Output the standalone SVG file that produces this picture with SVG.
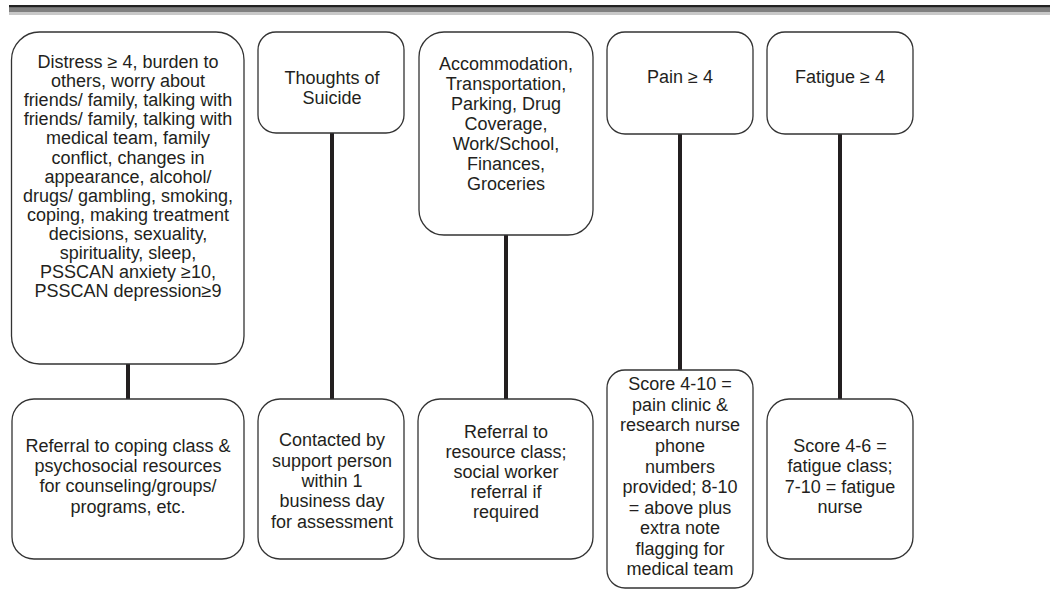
<svg xmlns="http://www.w3.org/2000/svg" width="1050" height="592" viewBox="0 0 1050 592">
<style>
.box{fill:#fff;stroke:#333;stroke-width:1.3}
.t{font-family:"Liberation Sans",Arial,sans-serif;font-size:18px;fill:#231f20;text-anchor:middle}
.c{stroke:#231f20;stroke-width:4;fill:none}
</style>
<rect width="1050" height="592" fill="#fff"/>
<g id="band">
<rect x="9" y="5" width="1041" height="2.7" fill="#222"/>
<rect x="9" y="7.7" width="1041" height="4.3" fill="#808080"/>
<rect x="9" y="12" width="1041" height="3" fill="#c8c8c8"/>
</g>
<g id="connectors">
<line class="c" x1="128" y1="364" x2="128" y2="399"/>
<line class="c" x1="332" y1="133" x2="332" y2="399"/>
<line class="c" x1="506" y1="235" x2="506" y2="399"/>
<line class="c" x1="680" y1="134" x2="680" y2="370"/>
<line class="c" x1="840" y1="134" x2="840" y2="399"/>
</g>
<g id="n1">
<rect class="box" x="11.5" y="32" width="232.5" height="332" rx="28"/>
<text class="t" x="128" y="68">Distress ≥ 4, burden to</text>
<text class="t" x="128" y="87">others, worry about</text>
<text class="t" x="128" y="106">friends/ family, talking with</text>
<text class="t" x="128" y="125">friends/ family, talking with</text>
<text class="t" x="128" y="144">medical team, family</text>
<text class="t" x="128" y="163.5">conflict, changes in</text>
<text class="t" x="128" y="182.5">appearance, alcohol/</text>
<text class="t" x="128" y="201.5">drugs/ gambling, smoking,</text>
<text class="t" x="128" y="220.5">coping, making treatment</text>
<text class="t" x="128" y="239.5">decisions, sexuality,</text>
<text class="t" x="128" y="258.5">spirituality, sleep,</text>
<text class="t" x="128" y="277.5">PSSCAN anxiety ≥10,</text>
<text class="t" x="128" y="296.5">PSSCAN depression≥9</text>
</g>
<g id="n2">
<rect class="box" x="258" y="32" width="146" height="101" rx="18"/>
<text class="t" x="332" y="84">Thoughts of</text>
<text class="t" x="332" y="104">Suicide</text>
</g>
<g id="n3">
<rect class="box" x="419" y="32" width="174" height="203" rx="25"/>
<text class="t" x="506" y="69.5">Accommodation,</text>
<text class="t" x="506" y="89.5">Transportation,</text>
<text class="t" x="506" y="109.5">Parking, Drug</text>
<text class="t" x="506" y="129.5">Coverage,</text>
<text class="t" x="506" y="149.5">Work/School,</text>
<text class="t" x="506" y="170">Finances,</text>
<text class="t" x="506" y="190">Groceries</text>
</g>
<g id="n4">
<rect class="box" x="607" y="32" width="146" height="102" rx="18"/>
<text class="t" x="680" y="83">Pain ≥ 4</text>
</g>
<g id="n5">
<rect class="box" x="767" y="32" width="146" height="102" rx="18"/>
<text class="t" x="840" y="83">Fatigue ≥ 4</text>
</g>
<g id="n6">
<rect class="box" x="12" y="399" width="232" height="160" rx="22"/>
<text class="t" x="128" y="452">Referral to coping class &amp;</text>
<text class="t" x="128" y="472">psychosocial resources</text>
<text class="t" x="128" y="492">for counseling/groups/</text>
<text class="t" x="128" y="513">programs, etc.</text>
</g>
<g id="n7">
<rect class="box" x="258" y="399" width="146" height="160" rx="22"/>
<text class="t" x="332" y="446">Contacted by</text>
<text class="t" x="332" y="466.5">support person</text>
<text class="t" x="332" y="486.5">within 1</text>
<text class="t" x="332" y="507">business day</text>
<text class="t" x="332" y="527.5">for assessment</text>
</g>
<g id="n8">
<rect class="box" x="418" y="399" width="175" height="160" rx="22"/>
<text class="t" x="506" y="438">Referral to</text>
<text class="t" x="506" y="458">resource class;</text>
<text class="t" x="506" y="478">social worker</text>
<text class="t" x="506" y="498">referral if</text>
<text class="t" x="506" y="518">required</text>
</g>
<g id="n9">
<rect class="box" x="607" y="370" width="146" height="218" rx="18"/>
<text class="t" x="680" y="390">Score 4-10 =</text>
<text class="t" x="680" y="410.5">pain clinic &amp;</text>
<text class="t" x="680" y="431">research nurse</text>
<text class="t" x="680" y="452">phone</text>
<text class="t" x="680" y="472.5">numbers</text>
<text class="t" x="680" y="493">provided; 8-10</text>
<text class="t" x="680" y="513.5">= above plus</text>
<text class="t" x="680" y="534">extra note</text>
<text class="t" x="680" y="554.5">flagging for</text>
<text class="t" x="680" y="575">medical team</text>
</g>
<g id="n10">
<rect class="box" x="767" y="399" width="146" height="160" rx="22"/>
<text class="t" x="840" y="452">Score 4-6 =</text>
<text class="t" x="840" y="472">fatigue class;</text>
<text class="t" x="840" y="492.5">7-10 = fatigue</text>
<text class="t" x="840" y="512.5">nurse</text>
</g>
</svg>
